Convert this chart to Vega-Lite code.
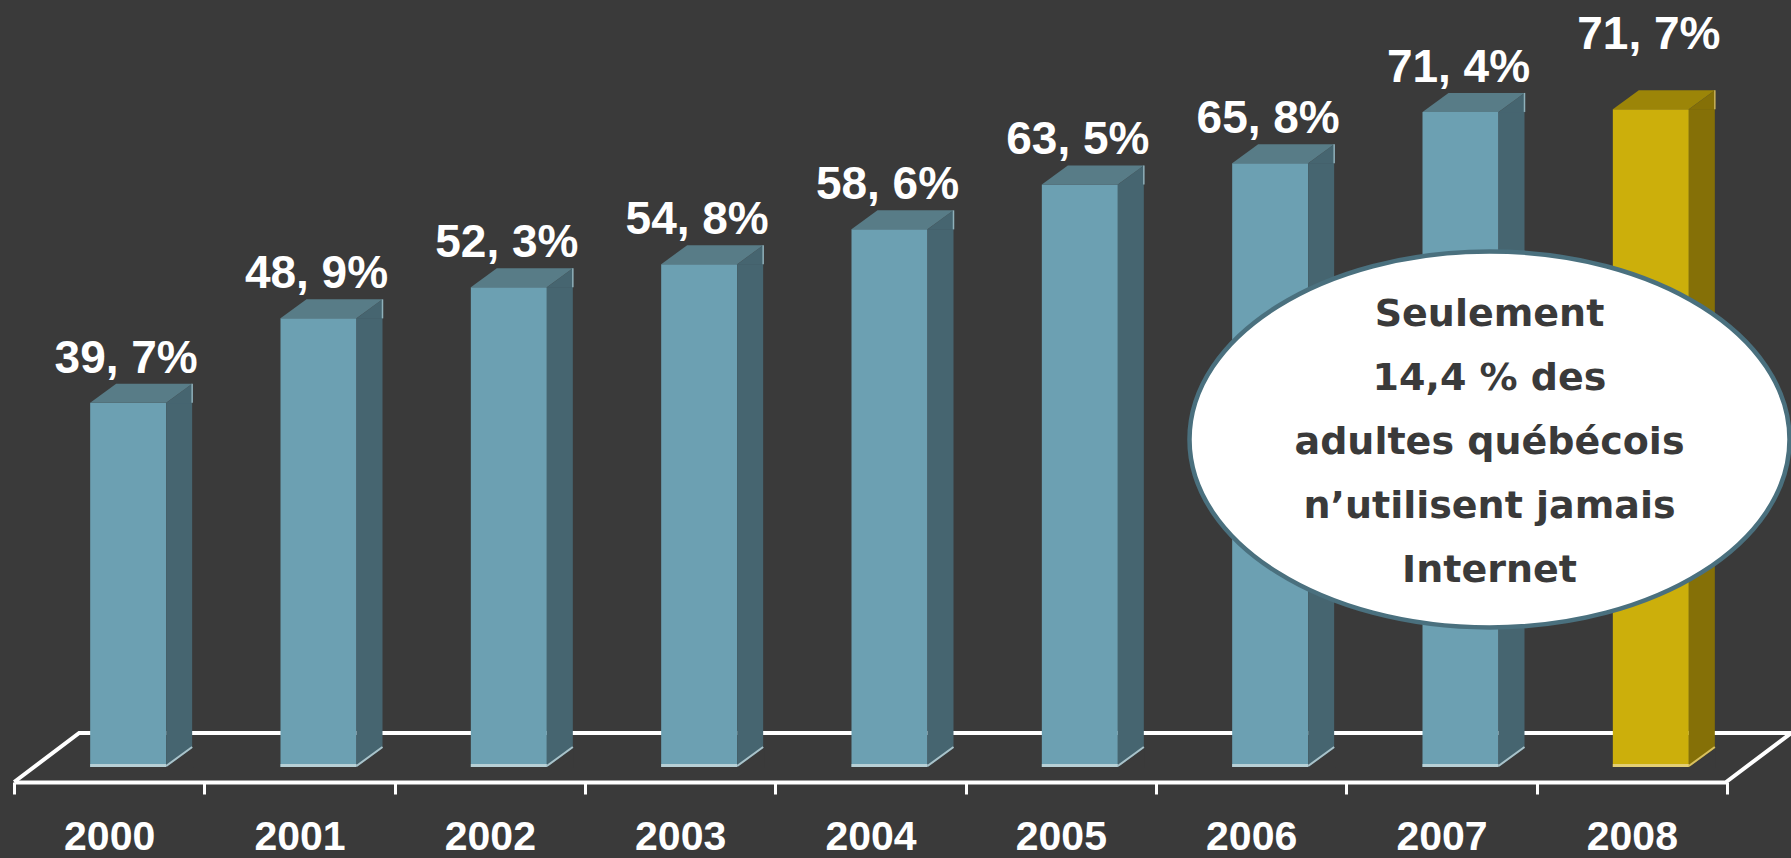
{
  "$schema": "https://vega.github.io/schema/vega-lite/v6.json",
  "autosize": {"type": "none"},
  "width": 1713,
  "height": 767,
  "padding": {"left": 14, "top": 0, "right": 64, "bottom": 91},
  "background": "#3a3a3a",
  "config": {"view": {"stroke": null}},
  "data": {
    "values": [
      {"year": "2000", "value": 39.7, "label": "39, 7%"},
      {"year": "2001", "value": 48.9, "label": "48, 9%"},
      {"year": "2002", "value": 52.3, "label": "52, 3%"},
      {"year": "2003", "value": 54.8, "label": "54, 8%"},
      {"year": "2004", "value": 58.6, "label": "58, 6%"},
      {"year": "2005", "value": 63.5, "label": "63, 5%"},
      {"year": "2006", "value": 65.8, "label": "65, 8%"},
      {"year": "2007", "value": 71.4, "label": "71, 4%"},
      {"year": "2008", "value": 71.7, "label": "71, 7%"}
    ]
  },
  "encoding": {
    "x": {
      "field": "year", "type": "nominal", "sort": null,
      "scale": {"paddingInner": 0, "paddingOuter": 0},
      "axis": {
        "title": null, "labelAngle": 0,
        "labelFont": "Liberation Sans", "labelFontWeight": "bold", "labelFontSize": 41,
        "labelColor": "#ffffff", "labelPadding": 23,
        "domainColor": "#ffffff", "domainWidth": 4,
        "tickColor": "#ffffff", "tickWidth": 3, "tickSize": 12, "tickBand": "extent",
        "offset": 15, "grid": false
      }
    },
    "y": {
      "field": "value", "type": "quantitative",
      "scale": {"domain": [0, 83.6], "nice": false},
      "axis": null
    }
  },
  "layer": [
    {
      "transform": [{"filter": "datum.year === '2000'"}],
      "mark": {"type": "point", "shape": "M -95 15 L -30 -34 L 1682 -34 L 1617 15", "size": 4, "filled": false, "stroke": "#ffffff", "strokeWidth": 4, "opacity": 1},
      "encoding": {"y": {"datum": 0}}
    },
    {
      "mark": {"type": "bar", "width": 76, "xOffset": 19},
      "encoding": {
        "color": {"condition": {"test": "datum.year === '2008'", "value": "#ccaf0b"}, "value": "#6ca0b2"}
      }
    },
    {
      "mark": {"type": "bar", "width": 26, "xOffset": 70},
      "encoding": {
        "color": {"condition": {"test": "datum.year === '2008'", "value": "#857007"}, "value": "#466570"}
      }
    },
    {
      "mark": {"type": "point", "shape": "M 56.5 0.5 L 83 -19 L 83 0.5 Z", "size": 4, "filled": true, "opacity": 1, "strokeWidth": 0},
      "encoding": {
        "color": {"condition": {"test": "datum.year === '2008'", "value": "#857007"}, "value": "#466570"}
      }
    },
    {
      "mark": {"type": "point", "shape": "M -19 0 L 57 0 L 83 -19 L 7 -19 Z", "size": 4, "filled": true, "opacity": 1, "strokeWidth": 0},
      "encoding": {
        "color": {"condition": {"test": "datum.year === '2008'", "value": "#9c8508"}, "value": "#587c87"}
      }
    },
    {
      "mark": {"type": "point", "shape": "M 83 -19 L 83 0", "size": 4, "filled": false, "opacity": 1, "strokeWidth": 1.5},
      "encoding": {
        "color": {"condition": {"test": "datum.year === '2008'", "value": "#c9b25a"}, "value": "#8fb0ba"}
      }
    },
    {
      "mark": {"type": "point", "shape": "M 57 0 L 84 -19.5 L 84 1 L 57 1 Z", "size": 4, "filled": true, "opacity": 1, "strokeWidth": 0, "color": "#3a3a3a"},
      "encoding": {"y": {"datum": 0}}
    },
    {
      "mark": {"type": "point", "shape": "M -19 -3 L 57 -3 L 57 0 L -19 0 Z", "size": 4, "filled": true, "opacity": 1, "strokeWidth": 0},
      "encoding": {
        "y": {"datum": 0},
        "color": {"condition": {"test": "datum.year === '2008'", "value": "#e3cf74"}, "value": "#b7d0d6"}
      }
    },
    {
      "mark": {"type": "point", "shape": "M 57 -1 L 83 -20", "size": 4, "filled": false, "opacity": 1, "strokeWidth": 2},
      "encoding": {
        "y": {"datum": 0},
        "color": {"condition": {"test": "datum.year === '2008'", "value": "#d8c060"}, "value": "#a9c3ca"}
      }
    },
    {
      "transform": [{"filter": "datum.year !== '2008'"}],
      "mark": {"type": "text", "font": "Liberation Sans", "fontWeight": "bold", "fontSize": 46, "color": "#ffffff", "baseline": "alphabetic", "align": "center", "dx": 17, "dy": -30},
      "encoding": {"text": {"field": "label"}}
    },
    {
      "transform": [{"filter": "datum.year === '2008'"}],
      "mark": {"type": "text", "font": "Liberation Sans", "fontWeight": "bold", "fontSize": 46, "color": "#ffffff", "baseline": "alphabetic", "align": "center", "dx": 17, "dy": -60},
      "encoding": {"text": {"field": "label"}}
    },
    {
      "data": {"values": [{"year": "2007", "pct": 35.7, "note": "Seulement\n14,4 % des\nadultes québécois\nn’utilisent jamais\nInternet"}]},
      "mark": {"type": "point", "shape": "M -300 0 A 300 188 0 1 0 300 0 A 300 188 0 1 0 -300 0 Z", "size": 4, "filled": true, "opacity": 1, "fill": "#ffffff", "stroke": "#4a707e", "strokeWidth": 4.5, "xOffset": 48},
      "encoding": {"y": {"field": "pct", "type": "quantitative"}}
    },
    {
      "data": {"values": [{"year": "2007", "pct": 35.7, "note": "Seulement\n14,4 % des\nadultes québécois\nn’utilisent jamais\nInternet"}]},
      "mark": {"type": "text", "font": "DejaVu Sans", "fontWeight": "bold", "fontSize": 38, "lineHeight": 64, "lineBreak": "\n", "color": "#3a3a3a", "align": "center", "baseline": "alphabetic", "dy": -113, "xOffset": 48},
      "encoding": {"y": {"field": "pct", "type": "quantitative"}, "text": {"field": "note"}}
    }
  ]
}
